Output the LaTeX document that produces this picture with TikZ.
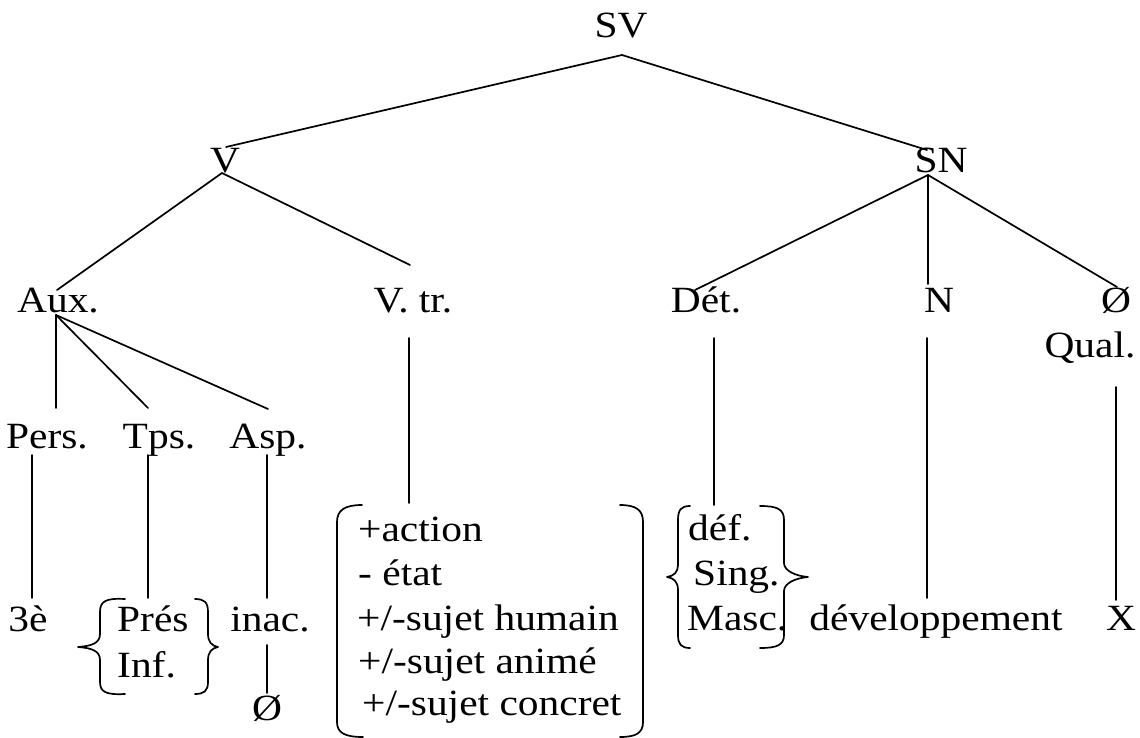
\documentclass[tikz,border=0pt]{standalone}
\usepackage{fontspec}
\setmainfont{Liberation Serif}[FakeStretch=1.12]
\begin{document}
\begin{tikzpicture}[x=1pt,y=-1pt,
  lab/.style={anchor=base,inner sep=0pt,font=\fontsize{37}{44}\selectfont},
  labl/.style={lab,anchor=base west},
  edge/.style={line width=1.7pt,line cap=round},
  brace/.style={line width=1.7pt,line cap=round,line join=round}]
\useasboundingbox (0,0) rectangle (1140,738);

% --- labels of the tree
\node[lab] (SV)   at (621,38)  {SV};
\node[lab] (V)    at (225,173) {V};
\node[lab] (SN)   at (941,173) {SN};
\node[lab] (Aux)  at (58,312)  {Aux.};
\node[lab] (Vtr)  at (413,312) {V. tr.};
\node[lab] (Det)  at (706,312) {Dét.};
\node[lab] (N)    at (939,312) {N};
\node[lab] (Zq)   at (1116,312) {Ø};
\node[lab] (Qual) at (1090,357) {Qual.};
\node[lab] (Pers) at (47,448)  {Pers.};
\node[lab] (Tps)  at (159,448) {Tps.};
\node[lab] (Asp)  at (268,448) {Asp.};
\node[lab] (Trois) at (28,631) {3è};
\node[labl] (Pres) at (117,631) {Prés};
\node[labl] (Inf)  at (117,677) {Inf.};
\node[lab] (Inac) at (270,631) {inac.};
\node[lab] (Zasp) at (267,720) {Ø};
\node[labl] (F1) at (358,541) {+action};
\node[labl] (F2) at (358,585) {- état};
\node[labl] (F3) at (357,630) {+/-sujet humain};
\node[labl] (F4) at (358,673) {+/-sujet animé};
\node[labl] (F5) at (362,715) {+/-sujet concret};
\node[labl] (D1) at (688,540) {déf.};
\node[labl] (D2) at (693,585) {Sing.};
\node[labl] (D3) at (687,630) {Masc.};
\node[lab] (Dev) at (936,630) {développement};
\node[lab] (X)   at (1121,630) {X};

% --- attachment points of the branches
\coordinate (SVb)  at (622,55);
\coordinate (Vt)   at (226,147);
\coordinate (Vb)   at (222,173);
\coordinate (SNt)  at (927,150);
\coordinate (SNb)  at (928,175);
\coordinate (Auxt) at (57,290);
\coordinate (Auxb) at (56,315);
\coordinate (Vtrt) at (410,265);
\coordinate (Dett) at (695,290);
\coordinate (Nt)   at (928,284);
\coordinate (Zqt)  at (1117,287);
\coordinate (Perst) at (56,408);
\coordinate (Tpst)  at (148,408);
\coordinate (Aspt)  at (268,409);

\draw[edge] (SVb) -- (Vt);
\draw[edge] (SVb) -- (SNt);
\draw[edge] (Vb) -- (Auxt);
\draw[edge] (Vb) -- (Vtrt);
\draw[edge] (SNb) -- (Dett);
\draw[edge] (SNb) -- (Nt);
\draw[edge] (SNb) -- (Zqt);
\draw[edge] (Auxb) -- (Perst);
\draw[edge] (Auxb) -- (Tpst);
\draw[edge] (Auxb) -- (Aspt);

% --- vertical stems down to the values
\draw[edge] (32,455) -- (32,598);
\draw[edge] (148,455) -- (148,598);
\draw[edge] (267,455) -- (267,598);
\draw[edge] (267,645) -- (267,693);
\draw[edge] (409,338) -- (409,503);
\draw[edge] (714,338) -- (714,505);
\draw[edge] (927,338) -- (927,598);
\draw[edge] (1116,387) -- (1116,600);

% --- braces round Prés / Inf.
\draw[brace] (125,599) .. controls (106,598) and (100,601) .. (100,612)
  -- (100,634) .. controls (100,643) and (92,646) .. (78,647)
  .. controls (92,648) and (100,651) .. (100,660)
  -- (100,682) .. controls (100,692) and (106,695) .. (125,694);
\draw[brace] (195,599) .. controls (204,599) and (208,602) .. (208,612)
  -- (208,634) .. controls (208,642) and (212,646) .. (218,647)
  .. controls (212,648) and (208,652) .. (208,660)
  -- (208,682) .. controls (208,691) and (204,694) .. (195,694);

% --- braces round déf. / Sing. / Masc.
\draw[brace] (690,506) .. controls (681,506) and (678,510) .. (678,520)
  -- (678,565) .. controls (678,572) and (674,576) .. (667,577)
  .. controls (674,578) and (678,582) .. (678,590)
  -- (678,635) .. controls (678,644) and (681,648) .. (690,648);
\draw[brace] (760,506) .. controls (777,506) and (784,509) .. (784,520)
  -- (784,563) .. controls (784,571) and (796,576) .. (808,577)
  .. controls (796,578) and (784,583) .. (784,591)
  -- (784,635) .. controls (784,645) and (777,648) .. (760,648);

% --- large bracket round the features of V. tr.
\draw[brace] (362,505) .. controls (345,505) and (337,510) .. (337,522)
  -- (337,722) .. controls (337,733) and (345,737) .. (363,737);
\draw[brace] (620,505) .. controls (636,505) and (643,510) .. (643,522)
  -- (643,722) .. controls (643,733) and (636,737) .. (620,737);
\end{tikzpicture}
\end{document}
